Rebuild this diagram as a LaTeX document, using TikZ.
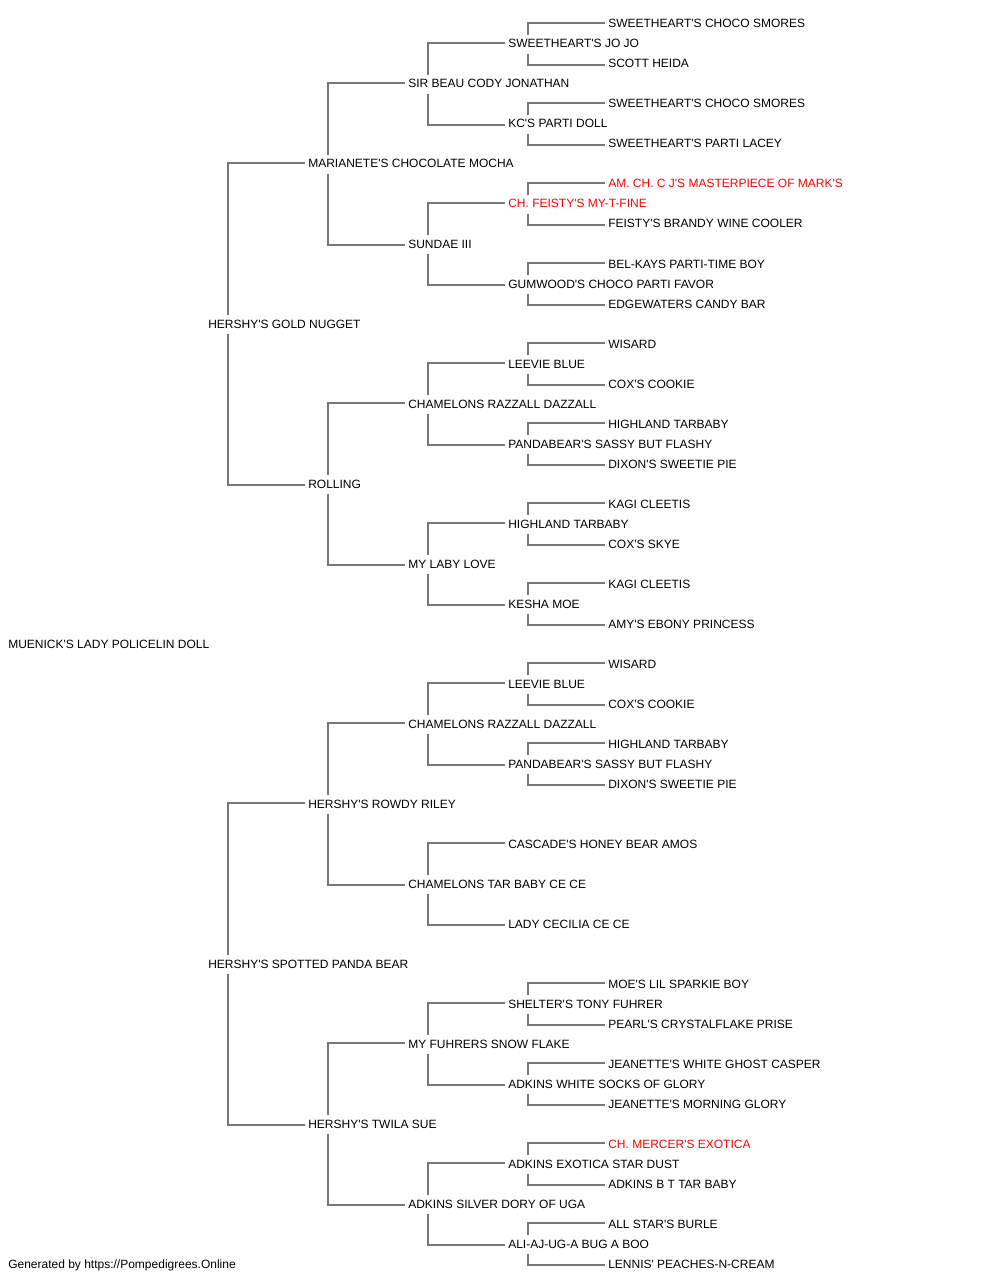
\documentclass[tikz,border=0pt]{standalone}
\usepackage{fontspec}
\newfontfamily\dogfont{Liberation Sans}
\definecolor{linkgray}{RGB}{119,119,119}
\definecolor{champred}{RGB}{255,0,0}

\begin{document}
\begin{tikzpicture}[x=0.75pt,y=-0.75pt,
        entry/.style={anchor=base west,inner xsep=2.25pt,inner ysep=0pt,text height=6.45pt,text depth=0pt,font=\dogfont\fontsize{9pt}{11pt}\selectfont},
        link/.style={draw=linkgray,line width=1.5pt}]
    \useasboundingbox (0,0) rectangle (1000,1280);
    \node[entry] (dog) at (5,648) {MUENICK'S LADY POLICELIN DOLL};
    \foreach \n/\g/\r/\c/\t in {
            s/1/15/black/{HERSHY'S GOLD NUGGET}, d/1/47/black/{HERSHY'S SPOTTED PANDA BEAR},
            ss/2/7/black/{MARIANETE'S CHOCOLATE MOCHA}, sd/2/23/black/{ROLLING},
            ds/2/39/black/{HERSHY'S ROWDY RILEY}, dd/2/55/black/{HERSHY'S TWILA SUE},
            sss/3/3/black/{SIR BEAU CODY JONATHAN}, ssd/3/11/black/{SUNDAE III},
            sds/3/19/black/{CHAMELONS RAZZALL DAZZALL}, sdd/3/27/black/{MY LABY LOVE},
            dss/3/35/black/{CHAMELONS RAZZALL DAZZALL}, dsd/3/43/black/{CHAMELONS TAR BABY CE CE},
            dds/3/51/black/{MY FUHRERS SNOW FLAKE}, ddd/3/59/black/{ADKINS SILVER DORY OF UGA},
            ssss/4/1/black/{SWEETHEART'S JO JO}, sssd/4/5/black/{KC'S PARTI DOLL},
            ssds/4/9/champred/{CH. FEISTY'S MY-T-FINE}, ssdd/4/13/black/{GUMWOOD'S CHOCO PARTI FAVOR},
            sdss/4/17/black/{LEEVIE BLUE}, sdsd/4/21/black/{PANDABEAR'S SASSY BUT FLASHY},
            sdds/4/25/black/{HIGHLAND TARBABY}, sddd/4/29/black/{KESHA MOE},
            dsss/4/33/black/{LEEVIE BLUE}, dssd/4/37/black/{PANDABEAR'S SASSY BUT FLASHY},
            dsds/4/41/black/{CASCADE'S HONEY BEAR AMOS}, dsdd/4/45/black/{LADY CECILIA CE CE},
            ddss/4/49/black/{SHELTER'S TONY FUHRER}, ddsd/4/53/black/{ADKINS WHITE SOCKS OF GLORY},
            ddds/4/57/black/{ADKINS EXOTICA STAR DUST}, dddd/4/61/black/{ALI-AJ-UG-A BUG A BOO},
            sssss/5/0/black/{SWEETHEART'S CHOCO SMORES}, ssssd/5/2/black/{SCOTT HEIDA},
            sssds/5/4/black/{SWEETHEART'S CHOCO SMORES}, sssdd/5/6/black/{SWEETHEART'S PARTI LACEY},
            ssdss/5/8/champred/{AM. CH. C J'S MASTERPIECE OF MARK'S}, ssdsd/5/10/black/{FEISTY'S BRANDY WINE COOLER},
            ssdds/5/12/black/{BEL-KAYS PARTI-TIME BOY}, ssddd/5/14/black/{EDGEWATERS CANDY BAR},
            sdsss/5/16/black/{WISARD}, sdssd/5/18/black/{COX'S COOKIE},
            sdsds/5/20/black/{HIGHLAND TARBABY}, sdsdd/5/22/black/{DIXON'S SWEETIE PIE},
            sddss/5/24/black/{KAGI CLEETIS}, sddsd/5/26/black/{COX'S SKYE},
            sddds/5/28/black/{KAGI CLEETIS}, sdddd/5/30/black/{AMY'S EBONY PRINCESS},
            dssss/5/32/black/{WISARD}, dsssd/5/34/black/{COX'S COOKIE},
            dssds/5/36/black/{HIGHLAND TARBABY}, dssdd/5/38/black/{DIXON'S SWEETIE PIE},
            ddsss/5/48/black/{MOE'S LIL SPARKIE BOY}, ddssd/5/50/black/{PEARL'S CRYSTALFLAKE PRISE},
            ddsds/5/52/black/{JEANETTE'S WHITE GHOST CASPER}, ddsdd/5/54/black/{JEANETTE'S MORNING GLORY},
            dddss/5/56/champred/{CH. MERCER'S EXOTICA}, dddsd/5/58/black/{ADKINS B T TAR BABY},
            dddds/5/60/black/{ALL STAR'S BURLE}, ddddd/5/62/black/{LENNIS' PEACHES-N-CREAM}}
        \node[entry,text=\c] (\n) at ({105+100*\g},{28+20*\r}) {\t};
    \node[entry] (gen) at (5,1268) {Generated by https://Pompedigrees.Online};
    \foreach \k in {s,d,ss,sd,ds,dd,sss,ssd,sds,sdd,dss,dsd,dds,ddd,ssss,sssd,ssds,ssdd,sdss,sdsd,sdds,sddd,dsss,dssd,ddss,ddsd,ddds,dddd}{
        \draw[link] ([shift={(23,-4.4)}]\k.north west) |- ([yshift=0.4pt]\k s.west);
        \draw[link] ([shift={(23,6)}]\k.south west) |- ([yshift=-1pt]\k d.west);
    }
\end{tikzpicture}
\end{document}
